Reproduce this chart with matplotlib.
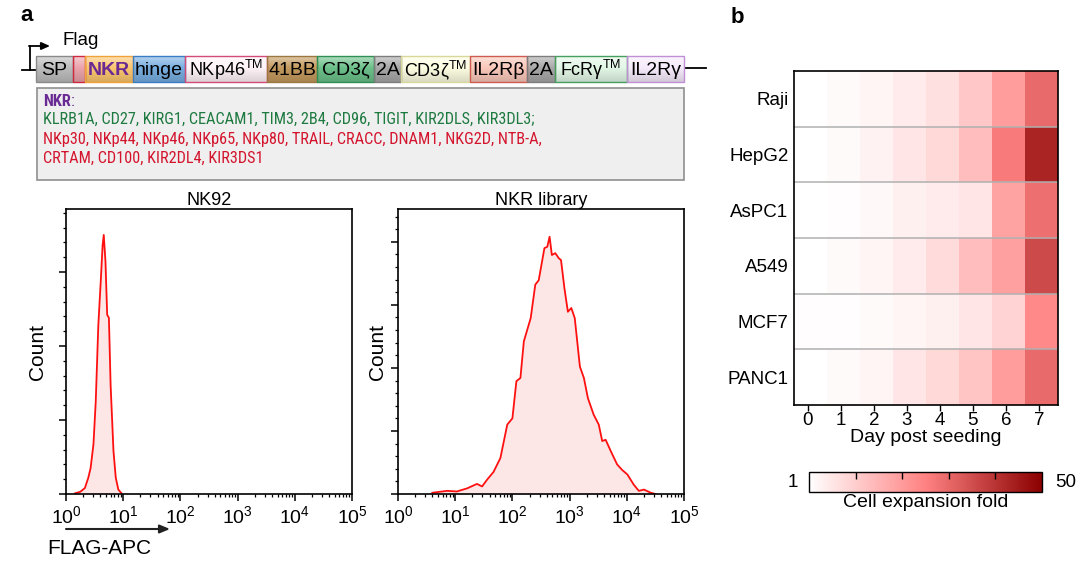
import numpy as np
import matplotlib
matplotlib.use("Agg")
import matplotlib.pyplot as plt
from matplotlib.patches import Rectangle
from matplotlib.colors import LinearSegmentedColormap, to_rgb
from matplotlib.ticker import MultipleLocator, LogLocator, NullFormatter
from matplotlib import font_manager

plt.rcParams["font.family"] = ["Liberation Sans", "DejaVu Sans"]
plt.rcParams["mathtext.fontset"] = "custom"
plt.rcParams["mathtext.rm"] = "Liberation Sans"
plt.rcParams["mathtext.it"] = "Liberation Sans:italic"
plt.rcParams["mathtext.bf"] = "Liberation Sans:bold"

# narrow face for the NKR list if one is installed
NARROW = "Liberation Sans"
for f in font_manager.fontManager.ttflist:
    if f.name in ("Liberation Sans Narrow", "Arial Narrow", "Roboto Condensed") \
            and f.weight in (400, "normal", "regular") and f.style == "normal":
        NARROW = f.name
        break

# ---------------------------------------------------------------------
# data
# ---------------------------------------------------------------------
TM = r"$^{\mathrm{TM}}$"
segments = ["SP", "", "NKR", "hinge", "NKp46" + TM, "41BB", "CD3ζ", "2A",
            "CD3ζ" + TM, "IL2Rβ", "2A", "FcRγ" + TM, "IL2Rγ"]
inhibitory = ["KLRB1A", "CD27", "KIRG1", "CEACAM1", "TIM3", "2B4", "CD96",
              "TIGIT", "KIR2DLS", "KIR3DL3"]
activating = ["NKp30", "NKp44", "NKp46", "NKp65", "NKp80", "TRAIL", "CRACC",
              "DNAM1", "NKG2D", "NTB-A", "CRTAM", "CD100", "KIR2DL4", "KIR3DS1"]

# flow histograms: log10(FLAG-APC) vs count
nk92_logx = [0.16, 0.25, 0.33, 0.39, 0.43, 0.48, 0.52, 0.565, 0.61, 0.64,
             0.66, 0.69, 0.72, 0.75, 0.78, 0.83, 0.87, 0.915, 0.97]
nk92_cnt = [1, 3, 8, 22, 35, 67, 125, 228, 291, 336,
            350, 314, 242, 238, 147, 58, 22, 6, 1]

lib_logx = [0.60, 0.86, 1.03, 1.21, 1.38, 1.47, 1.56, 1.67, 1.79, 1.91,
            2.00, 2.07, 2.14, 2.20, 2.32, 2.40, 2.46, 2.56, 2.61, 2.65,
            2.69, 2.75, 2.81, 2.85, 2.91, 2.97, 3.03, 3.09, 3.18, 3.25,
            3.32, 3.42, 3.51, 3.57, 3.63, 3.72, 3.83, 3.92, 4.01, 4.12,
            4.21, 4.30, 4.42, 4.50]
lib_cnt = [2, 5, 4, 9, 16, 12, 23, 35, 57, 110,
           120, 179, 184, 242, 279, 332, 339, 390, 392, 408,
           379, 382, 374, 371, 326, 289, 295, 279, 202, 184,
           152, 126, 110, 84, 86, 68, 47, 38, 31, 15,
           5, 7, 2, 0]

# heatmap: cell expansion fold
cell_lines = ["Raji", "HepG2", "AsPC1", "A549", "MCF7", "PANC1"]
days = [0, 1, 2, 3, 4, 5, 6, 7]
fold = np.array([
    [1.0, 2.0, 3.0, 5.0, 7.0, 12.0, 20.0, 30.0],
    [1.0, 2.0, 3.5, 6.0, 8.5, 14.0, 27.0, 43.0],
    [1.0, 1.5, 2.5, 4.0, 5.0, 6.0, 19.0, 29.0],
    [1.0, 2.0, 3.0, 5.0, 8.0, 14.0, 19.5, 36.0],
    [1.5, 1.5, 2.0, 3.0, 4.0, 6.0, 9.5, 24.0],
    [1.0, 2.0, 3.0, 6.0, 8.5, 12.5, 20.0, 30.0],
])

# ---------------------------------------------------------------------
# layout / style
# ---------------------------------------------------------------------
W, H = 1084, 561
seg_edges = [36, 73, 85, 133, 185, 267, 317, 374, 401, 470, 527, 555, 627, 684]
seg_face = ["#bdbdbd", "#eba3ab", "#fbc66f", "#78aee0", "#fff3f7", "#c49a5e",
            "#6cc08a", "#a8a8a8", "#fdfde2", "#f9c8ba", "#a8a8a8", "#e3f7e6",
            "#f6ebfb"]
seg_line = ["#8a8a8a", "#d0283e", "#f0a23a", "#3c7cc4", "#d34b7a", "#9c7840",
            "#2f8f55", "#7d7d7d", "#d8d89a", "#cf5a50", "#7d7d7d", "#45a060",
            "#c08fd6"]
GREEN, RED, PURPLE = "#1d7a40", "#d4142d", "#6a2a94"

fig = plt.figure(figsize=(W / 100, H / 100), dpi=100)
ax0 = fig.add_axes([0, 0, 1, 1])
ax0.axis("off")

def fx(x):
    return x / W

def fy(y):
    return 1 - y / H

# panel labels
ax0.text(20, 15, "a", fontsize=16, fontweight="bold", va="center", ha="left")
ax0.text(731, 17, "b", fontsize=16, fontweight="bold", va="center", ha="left")

# construct
y0, y1 = 56, 82
ym = (y0 + y1) / 2
ax0.plot([22, seg_edges[0]], [70, 70], color="k", lw=1.3)
ax0.plot([seg_edges[-1], 706], [ym - 1, ym - 1], color="k", lw=1.3)
ax0.plot([29.5, 29.5], [70, 46], color="k", lw=1.3)
ax0.annotate("", xy=(50, 46), xytext=(28.9, 46),
             arrowprops=dict(arrowstyle="-|>,head_length=0.5,head_width=0.22",
                             color="k", lw=1.3, shrinkA=0, shrinkB=0))
ax0.text(62, 40, "Flag", fontsize=13.5, va="center", ha="left")
shade = np.linspace(0, 1, 32)
for i, lab in enumerate(segments):
    xa, xb = seg_edges[i], seg_edges[i + 1]
    c = np.array(to_rgb(seg_face[i]))
    # soft top-light / bottom-dark bevel
    top = c + (1 - c) * 0.45
    bot = c * 0.86
    mid = 0.45
    grad = np.where(shade[:, None] < mid,
                    top + (c - top) * (shade[:, None] / mid),
                    c + (bot - c) * ((shade[:, None] - mid) / (1 - mid)))
    rect = Rectangle((xa, y0), xb - xa, y1 - y0, facecolor="none",
                     edgecolor=seg_line[i], lw=1.0, zorder=3)
    ax0.add_patch(rect)
    img = ax0.imshow(grad[:, None, :], extent=(xa, xb, y1, y0), origin="upper",
                     aspect="auto", interpolation="bilinear", zorder=2)
    img.set_clip_path(rect)
    if lab:
        kw = dict(fontsize=14, va="center", ha="center", zorder=4)
        if lab == "NKR":
            kw.update(color=PURPLE, fontweight="bold")
        if "TM" in lab:
            kw.update(fontsize=13)
        ax0.text((xa + xb) / 2, ym + 1, lab, **kw)

# NKR list box
ax0.add_patch(Rectangle((37, 88), 647, 92, facecolor="#efefef",
                        edgecolor="#8f8f8f", lw=1.2))
fs = 11.5
t = ax0.text(43, 101, "NKR", fontsize=fs, fontweight="bold", color=PURPLE,
             va="center", ha="left", family=NARROW)
colon = ax0.annotate(":", xy=(1, 0.5), xycoords=t, va="center", ha="left",
                     fontsize=fs, color=PURPLE, family=NARROW)
lines = [
    ax0.text(43, 119, ", ".join(inhibitory) + ";", fontsize=fs, color=GREEN,
             va="center", ha="left", family=NARROW),
    ax0.text(43, 139, ", ".join(activating[:10]) + ",", fontsize=fs, color=RED,
             va="center", ha="left", family=NARROW),
    ax0.text(43, 158, ", ".join(activating[10:]), fontsize=fs, color=RED,
             va="center", ha="left", family=NARROW),
]

ax0.set_xlim(0, W)
ax0.set_ylim(H, 0)

# fit the list text to the width it has in the figure
fig.canvas.draw()
wpx = lines[0].get_window_extent().width
fs2 = fs * 492.0 / wpx
for obj in [t, colon] + lines:
    obj.set_fontsize(fs2)

# ---------------------------------------------------------------------
# histograms
# ---------------------------------------------------------------------
def hist_panel(left, title, lx, cnt, ymax, lab_x):
    ax = fig.add_axes([fx(left), fy(494), 286 / W, 285 / H])
    x = 10 ** np.asarray(lx)
    ax.fill_between(x, cnt, 0, color="#fde6e6", lw=0)
    ax.plot(x, cnt, color="#ff1010", lw=1.3)
    ax.set_xscale("log")
    ax.set_xlim(1, 1e5)
    ax.set_ylim(0, ymax)
    ax.xaxis.set_major_locator(LogLocator(base=10, numticks=10))
    ax.xaxis.set_minor_locator(LogLocator(base=10, subs=np.arange(2, 10), numticks=20))
    ax.xaxis.set_minor_formatter(NullFormatter())
    ax.yaxis.set_major_locator(MultipleLocator(100))
    ax.yaxis.set_minor_locator(MultipleLocator(20))
    ax.set_yticklabels([])
    ax.tick_params(axis="both", which="major", direction="out", length=5,
                   width=1.1, labelsize=14, pad=3)
    ax.tick_params(axis="both", which="minor", direction="out", length=2.5,
                   width=0.9)
    for s in ax.spines.values():
        s.set_linewidth(1.2)
    ax.set_title(title, fontsize=13, pad=3)
    ax.set_ylabel("Count", fontsize=15)
    ax.yaxis.set_label_coords(lab_x, 0.5)
    return ax

hist_panel(66, "NK92", nk92_logx, nk92_cnt, 385, -0.068)
hist_panel(398, "NKR library", lib_logx, lib_cnt, 452, -0.04)

ax0.annotate("", xy=(170, 529), xytext=(66, 529),
             arrowprops=dict(arrowstyle="-|>,head_length=0.6,head_width=0.25",
                             color="#222222", lw=1.5, shrinkA=0, shrinkB=0))
ax0.text(47, 548, "FLAG-APC", fontsize=15, va="center", ha="left")

# ---------------------------------------------------------------------
# heatmap
# ---------------------------------------------------------------------
cmap = LinearSegmentedColormap.from_list("fold", ["#ffffff", "#ff8282", "#8b0000"])
axh = fig.add_axes([fx(794), fy(405), 264 / W, 334 / H])
im = axh.imshow(fold, cmap=cmap, vmin=1, vmax=50, aspect="auto",
                extent=(-0.42, 7.58, len(cell_lines) - 0.5, -0.5))
for k in range(len(cell_lines) - 1):
    axh.axhline(k + 0.5, color="#b0b0b0", lw=1.1)
axh.set_xlim(-0.42, 7.58)
axh.set_xticks(days)
axh.set_xticklabels([str(d) for d in days])
axh.set_yticks(range(len(cell_lines)))
axh.set_yticklabels(cell_lines)
axh.tick_params(axis="x", direction="out", length=4, width=1, labelsize=13.5, pad=1)
axh.tick_params(axis="y", length=0, labelsize=13.5, pad=4)
axh.set_xlabel("Day post seeding", fontsize=14, labelpad=0)
for s in axh.spines.values():
    s.set_linewidth(1.2)

cax = fig.add_axes([fx(809), fy(492), 233 / W, 20 / H])
cb = fig.colorbar(im, cax=cax, orientation="horizontal")
cb.set_ticks([1 + 49 * k / 5 for k in range(1, 5)])
cb.ax.xaxis.set_ticks_position("top")
cb.ax.tick_params(direction="in", length=5, width=1, labeltop=False,
                  labelbottom=False)
cb.outline.set_linewidth(1.0)
ax0.text(793, 482, "1", fontsize=13.5, va="center", ha="center")
ax0.text(1066, 482, "50", fontsize=13.5, va="center", ha="center")
ax0.text(926, 502, "Cell expansion fold", fontsize=14, va="center", ha="center")

fig.savefig("out.png", dpi=100)
